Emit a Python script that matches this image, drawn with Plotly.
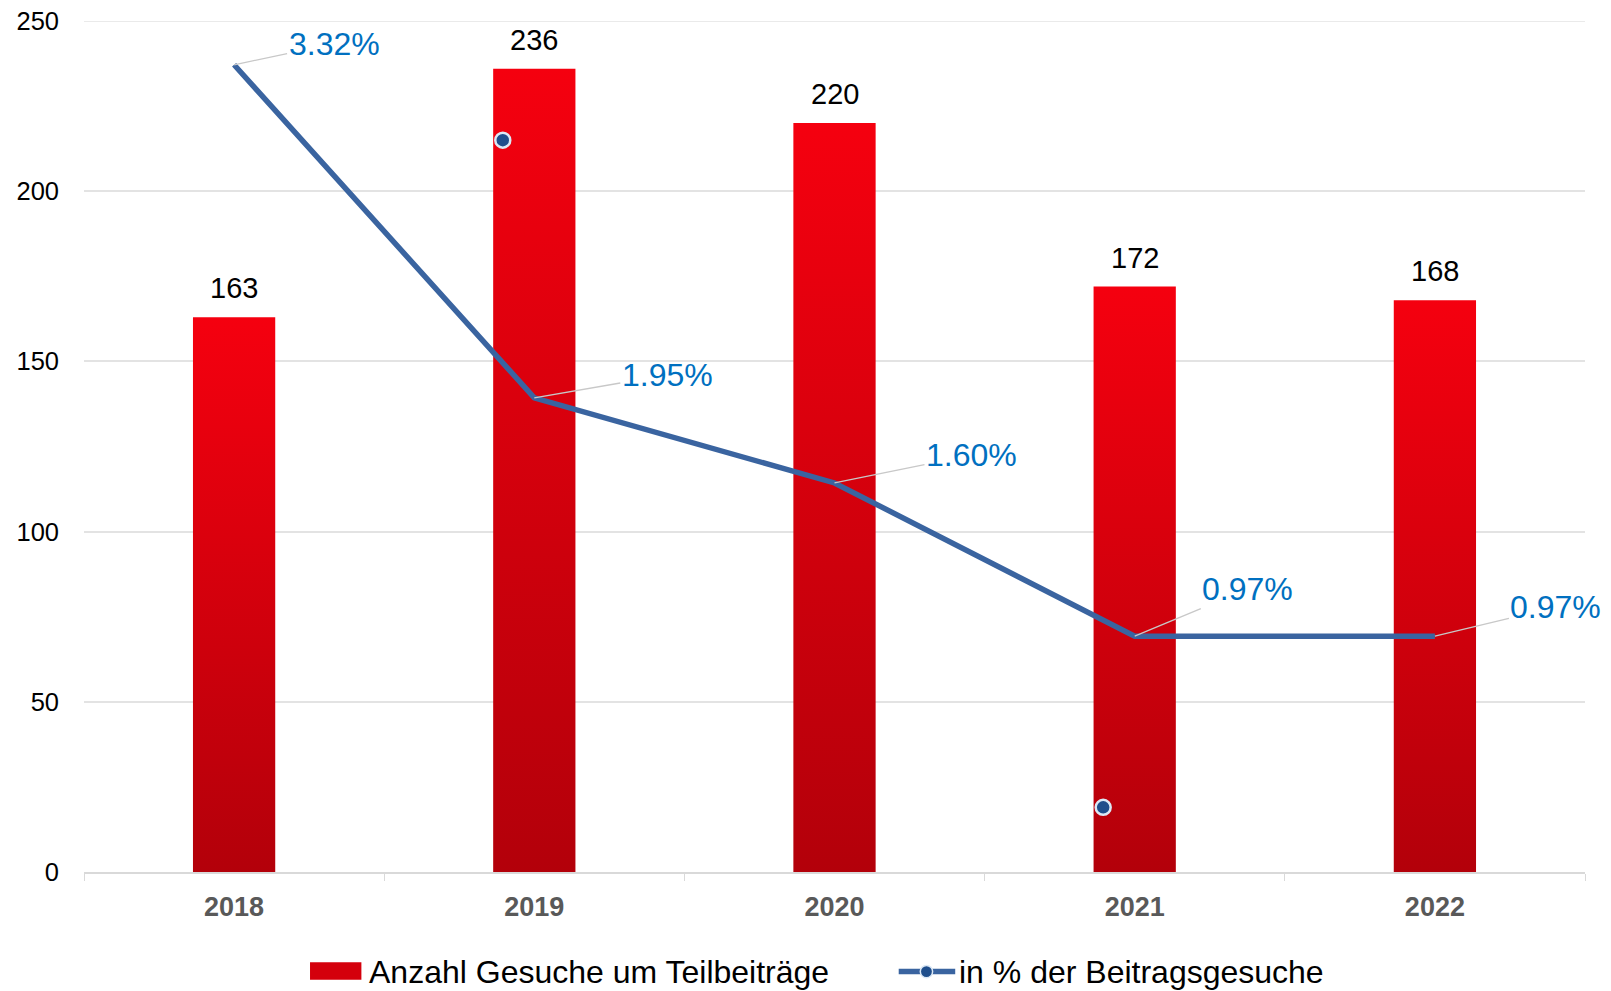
import plotly.graph_objects as go

# data
years = [2018, 2019, 2020, 2021, 2022]
gesuche = [163, 236, 220, 172, 168]
prozent = [3.32, 1.95, 1.60, 0.97, 0.97]
# two loose markers that float in the original picture
stray_x = [2018.895, 2020.895]
stray_y = [215, 19]
# label offsets (pixels) of the percentage callouts
label_dx = [100, 133, 137, 113, 121]
label_dy = [-21, -23, -28, -47, -29]

bar_name = "Anzahl Gesuche um Teilbeiträge"
line_name = "in % der Beitragsgesuche"

# page adds an 8px body margin, so the figure is a bit smaller than the window
W, H = 1603, 983
L, R, T, B = 76, 26, 12.5, 119
y_max = 250
bar_half = 0.137
red_scale = [[0, "#b3000a"], [1, "#f5000f"]]
blue_line = "#3a64a0"
blue_dot = "#1f4e8c"
blue_text = "#0070c0"
grid_color = "#e3e3e3"
font_family = "Liberation Sans, Arial, sans-serif"

# plot box as seen in the reference picture, used to place the legend
REF_L, REF_R, REF_T, REF_B = 82, 1543, 20, 849


def px(xp, yp):
    # reference picture position -> paper coordinates
    return (xp - REF_L) / (REF_R - REF_L), (REF_B - yp) / (REF_B - REF_T)


fig = go.Figure()

# top gridline (plotly leaves it out at the range edge)
fig.add_shape(type="line", xref="paper", yref="y", x0=0, x1=1, y0=y_max, y1=y_max,
              line=dict(color=grid_color, width=1.5), layer="below")

# bars as filled shapes so that they can carry a vertical gradient
for yr, v in zip(years, gesuche):
    fig.add_trace(go.Scatter(
        x=[yr - bar_half, yr + bar_half, yr + bar_half, yr - bar_half, yr - bar_half],
        y=[0, 0, v, v, 0],
        mode="lines",
        fill="toself",
        fillgradient=dict(type="vertical", colorscale=red_scale),
        line=dict(width=0, color="#d00010"),
        showlegend=False,
        hoverinfo="skip",
    ))
    # value label above the bar
    fig.add_annotation(
        x=yr, y=v, xref="x", yref="y", text=str(v), showarrow=False,
        yanchor="bottom", yshift=11,
        font=dict(size=29, color="#000000", family=font_family),
    )

# percentage line on hidden secondary axis
fig.add_trace(go.Scatter(
    x=years, y=prozent, mode="lines",
    line=dict(color=blue_line, width=5.5),
    yaxis="y2", showlegend=False,
))

fig.add_trace(go.Scatter(
    x=stray_x, y=stray_y, mode="markers",
    marker=dict(size=15, color=blue_dot, line=dict(color="#dbe8f5", width=2.5)),
    showlegend=False, hoverinfo="skip",
))

for yr, p, dx, dy in zip(years, prozent, label_dx, label_dy):
    fig.add_annotation(
        x=yr, y=p, xref="x", yref="y2",
        text=f"{p:.2f}%",
        showarrow=True, arrowhead=0, arrowwidth=1.3, arrowcolor="#c8c8c8",
        ax=dx, ay=dy, standoff=0,
        font=dict(size=32, color=blue_text, family=font_family),
    )

# hand-drawn legend below the plot
x0, y0 = px(302, 954)
x1, y1 = px(352, 937)
fig.add_shape(type="rect", xref="paper", yref="paper", x0=x0, y0=y0, x1=x1, y1=y1,
              fillcolor="#d4000c", line=dict(width=0))
tx, ty = px(357, 946)
fig.add_annotation(xref="paper", yref="paper", x=tx, y=ty, xanchor="left", yanchor="middle",
                   text=bar_name, showarrow=False, font=dict(size=32, color="#000000"))
lx0, ly = px(875, 946)
lx1, _ = px(930, 946)
fig.add_shape(type="line", xref="paper", yref="paper", x0=lx0, y0=ly, x1=lx1, y1=ly,
              line=dict(color=blue_line, width=5.5))
cx0, cy0 = px(896, 952)
cx1, cy1 = px(908, 940)
fig.add_shape(type="circle", xref="paper", yref="paper", x0=cx0, y0=cy0, x1=cx1, y1=cy1,
              fillcolor=blue_dot, line=dict(color="#dbe8f5", width=1.5))
tx2, _ = px(932, 946)
fig.add_annotation(xref="paper", yref="paper", x=tx2, y=ty, xanchor="left", yanchor="middle",
                   text=line_name, showarrow=False, font=dict(size=32, color="#000000"))

fig.update_layout(
    width=W, height=H,
    margin=dict(l=L, r=R, t=T, b=B, autoexpand=False),
    paper_bgcolor="white", plot_bgcolor="white",
    font=dict(family=font_family, color="#000000"),
    showlegend=False,
    xaxis=dict(
        range=[2017.5, 2022.5],
        tickvals=years, ticktext=[str(y) for y in years],
        tickfont=dict(size=27, color="#595959", family="Liberation Sans, Arial", weight="bold"),
        ticks="", ticklabelstandoff=10,
        showgrid=False, zeroline=False,
        showline=True, linecolor="#d9d9d9", linewidth=1.5,
        minor=dict(ticks="outside", tick0=2017.5, dtick=1, ticklen=7, tickcolor="#d9d9d9", showgrid=False),
    ),
    yaxis=dict(
        range=[0, y_max], dtick=50,
        tickfont=dict(size=25.5, color="#000000"),
        showgrid=True, gridcolor=grid_color, gridwidth=1.5,
        zeroline=False, ticks="", ticklabelstandoff=24,
        ticklabeloverflow="allow",
    ),
    yaxis2=dict(
        range=[0, 3.5], overlaying="y", side="right",
        visible=False, showgrid=False,
    ),
)

fig.write_html("out.html")
